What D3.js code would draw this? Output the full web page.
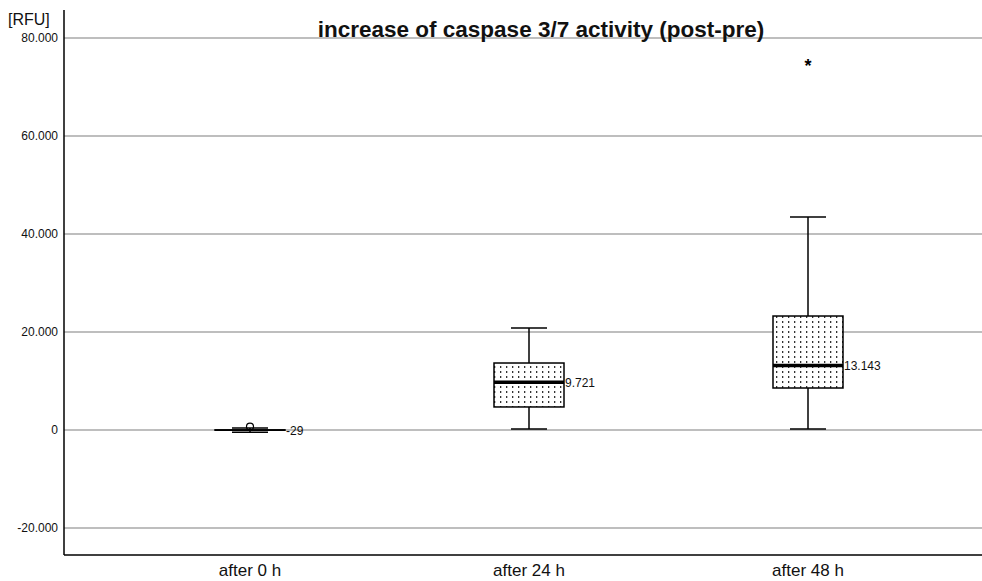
<!DOCTYPE html>
<html>
<head>
<meta charset="utf-8">
<script src="https://cdnjs.cloudflare.com/ajax/libs/d3/7.8.5/d3.min.js"></script>
<style>
  html, body { margin: 0; padding: 0; background: #fff; }
  svg { display: block; font-family: "Liberation Sans", Arial, sans-serif; }
</style>
</head>
<body>
<div id="chart"></div>
<script>
// groups and box statistics
const groups = ["after 0 h", "after 24 h", "after 48 h"];
const whiskerLow = [-450, 200, 200];
const q1 = [-40, 4700, 8570];
const medians = [-29, 9721, 13143];
const q3 = [30, 13670, 23260];
const whiskerHigh = [400, 20820, 43470];
const medianLabels = ["-29", "9.721", "13.143"];
// outliers: [group index, value, kind]
const outliers = [[0, 700, "circle"], [2, 75000, "star"]];
const yTicks = [-20000, 0, 20000, 40000, 60000, 80000];

const width = 982, height = 581;
const plotLeft = 64, plotTop = 10, plotBottom = 555, plotRight = 982;

const svg = d3.select("#chart").append("svg")
    .attr("width", width)
    .attr("height", height);

// dotted fill for the boxes
const pat = svg.append("defs").append("pattern")
    .attr("id", "dots")
    .attr("patternUnits", "userSpaceOnUse")
    .attr("width", 6)
    .attr("height", 5);
pat.append("rect").attr("width", 6).attr("height", 5).attr("fill", "#fff");
pat.append("rect").attr("x", 2).attr("y", 1).attr("width", 1.3).attr("height", 2).attr("fill", "#333");

const y = d3.scaleLinear()
    .domain([-25510, 85710])
    .range([plotBottom, plotTop]);

const x = d3.scalePoint()
    .domain(groups)
    .range([250, 808]);

const boxW = 70, capW = 36;

// grid lines
svg.append("g")
    .selectAll("line")
    .data(yTicks)
    .join("line")
    .attr("x1", plotLeft).attr("x2", plotRight)
    .attr("y1", d => y(d)).attr("y2", d => y(d))
    .attr("stroke", "#a8a8a8")
    .attr("stroke-width", 1.5);

// y tick labels
const fmt = d => d === 0 ? "0" : d3.format(",")(d).replace(/,/g, ".");
svg.append("g")
    .selectAll("text")
    .data(yTicks)
    .join("text")
    .attr("x", 58)
    .attr("y", d => y(d) + 4)
    .attr("text-anchor", "end")
    .attr("font-size", 12)
    .attr("fill", "#111")
    .text(d => d < 0 ? "-" + fmt(-d) : fmt(d));

svg.append("text")
    .attr("x", 8).attr("y", 25)
    .attr("font-size", 16)
    .attr("fill", "#111")
    .text("[RFU]");

// axes
svg.append("line")
    .attr("x1", plotLeft).attr("x2", plotLeft)
    .attr("y1", plotTop).attr("y2", plotBottom)
    .attr("stroke", "#000").attr("stroke-width", 1.5);
svg.append("line")
    .attr("x1", plotLeft).attr("x2", plotRight)
    .attr("y1", plotBottom).attr("y2", plotBottom)
    .attr("stroke", "#000").attr("stroke-width", 1.5);

// x labels
svg.append("g")
    .selectAll("text")
    .data(groups)
    .join("text")
    .attr("x", d => x(d))
    .attr("y", 576)
    .attr("text-anchor", "middle")
    .attr("font-size", 17)
    .attr("fill", "#111")
    .text(d => d);

// boxes
const box = svg.append("g")
    .selectAll("g")
    .data(groups)
    .join("g");

box.append("line")
    .attr("x1", d => x(d)).attr("x2", d => x(d))
    .attr("y1", (d, i) => y(whiskerLow[i])).attr("y2", (d, i) => y(whiskerHigh[i]))
    .attr("stroke", "#000").attr("stroke-width", 1.5);

box.selectAll(".cap")
    .data((d, i) => [whiskerLow[i], whiskerHigh[i]].map(v => ({ g: d, v })))
    .join("line")
    .attr("x1", d => x(d.g) - capW / 2).attr("x2", d => x(d.g) + capW / 2)
    .attr("y1", d => y(d.v)).attr("y2", d => y(d.v))
    .attr("stroke", "#000").attr("stroke-width", 1.5);

box.append("rect")
    .attr("x", d => x(d) - boxW / 2)
    .attr("width", boxW)
    .attr("y", (d, i) => y(q3[i]))
    .attr("height", (d, i) => y(q1[i]) - y(q3[i]))
    .attr("fill", "url(#dots)")
    .attr("stroke", "#000").attr("stroke-width", 1.5);

box.append("line")
    .attr("x1", d => x(d) - boxW / 2).attr("x2", d => x(d) + boxW / 2)
    .attr("y1", (d, i) => y(medians[i])).attr("y2", (d, i) => y(medians[i]))
    .attr("stroke", "#000").attr("stroke-width", (d, i) => i === 0 ? 1.5 : 3.5);

box.append("text")
    .attr("x", d => x(d) + boxW / 2 + 1)
    .attr("y", (d, i) => y(medians[i]) + 4.5)
    .attr("font-size", 12)
    .attr("fill", "#111")
    .text((d, i) => medianLabels[i]);

// outliers
outliers.forEach(([gi, v, kind]) => {
    if (kind === "circle") {
        svg.append("circle")
            .attr("cx", x(groups[gi]))
            .attr("cy", y(v))
            .attr("r", 3.5)
            .attr("fill", "none")
            .attr("stroke", "#000").attr("stroke-width", 1.2);
    } else {
        svg.append("text")
            .attr("x", x(groups[gi]))
            .attr("y", y(v) + 10)
            .attr("text-anchor", "middle")
            .attr("font-size", 18)
            .attr("font-weight", "bold")
            .text("*");
    }
});

// title
svg.append("text")
    .attr("x", 541).attr("y", 37)
    .attr("text-anchor", "middle")
    .attr("font-size", 22.5)
    .attr("font-weight", "bold")
    .attr("fill", "#111")
    .text("increase of caspase 3/7 activity (post-pre)");
</script>
</body>
</html>
